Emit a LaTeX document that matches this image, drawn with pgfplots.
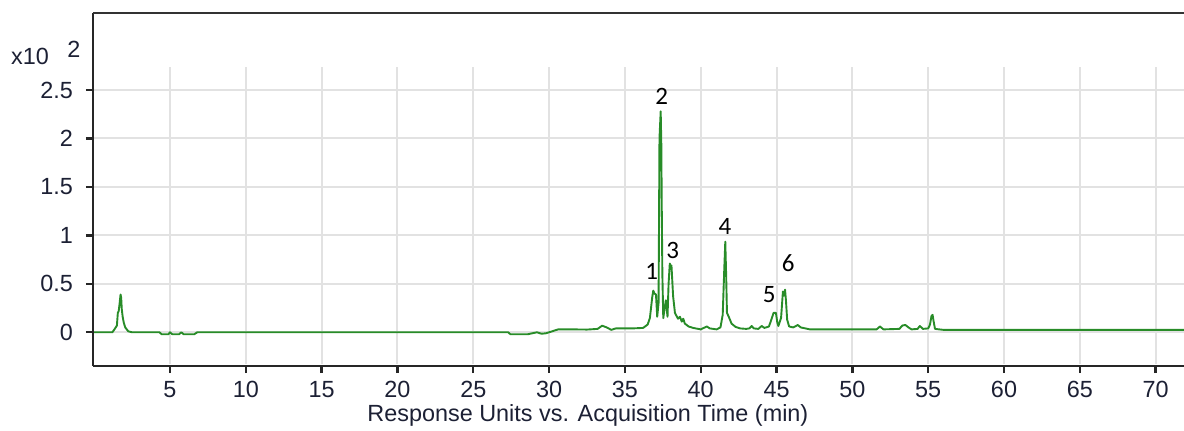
\documentclass[border=0pt]{standalone}
\usepackage{fontspec}
\setmainfont{Liberation Sans}
\newfontfamily\calib{Carlito}
\usepackage{pgfplots}
\pgfplotsset{compat=1.18}
\definecolor{trace}{RGB}{40,140,40}
\definecolor{gridc}{RGB}{226,226,226}
\definecolor{txt}{RGB}{28,32,52}
\begin{document}
\begin{tikzpicture}[x=1pt,y=1pt]
\useasboundingbox (-46.5,-32) rectangle (545.5,183);
\begin{axis}[
  at={(0,0)}, anchor=south west,
  scale only axis, width=545.5pt, height=176.5pt,
  xmin=-0.077, xmax=71.87, ymin=-0.348, ymax=3.295,
  axis lines=left,
  axis line style={-, line width=1.2pt, black!85},
  xtick={5,10,15,20,25,30,35,40,45,50,55,60,65,70},
  xticklabels={5,10,15,20,25,30,35,40,45,50,55,60,65,70},
  ytick={0,0.5,1,1.5,2,2.5},
  yticklabels={0,0.5,1,1.5,2,2.5},
  tick align=outside, major tick length=3.5pt,
  tick style={line width=1.2pt, black!85},
  ymajorgrids, grid style={gridc, line width=1pt},
  ticklabel style={font=\fontsize{11.7}{14}\selectfont, text=txt},
  xticklabel style={yshift=-0.5pt},
  yticklabel style={xshift=-3pt},
  /pgf/number format/assume math mode=true,
  clip=false,
]
\pgfplotsinvokeforeach{5,10,15,20,25,30,35,40,45,50,55,60,65,70}{
  \draw[gridc, line width=1pt] (axis cs:#1,-0.33) -- (axis cs:#1,2.74);
}
\addplot[trace, line width=0.95pt, line join=round] coordinates {
(0,0) (1.20,0) (1.38,0.04) (1.50,0.07) (1.56,0.20) (1.62,0.22) (1.68,0.30)
(1.74,0.39) (1.78,0.36) (1.82,0.24) (1.88,0.16) (1.95,0.10) (2.05,0.05)
(2.25,0.01) (2.5,0) (4.3,0) (4.45,-0.02) (4.9,-0.02) (5.0,0) (5.15,-0.02)
(5.6,-0.02) (5.75,0) (5.9,-0.02) (6.6,-0.02) (6.8,0) (27.3,0) (27.45,-0.02)
(28.6,-0.02) (28.9,-0.01) (29.2,0) (29.5,-0.015) (29.8,-0.01) (30.2,0.01)
(30.6,0.03) (31.5,0.03) (32.5,0.028) (33.2,0.035) (33.5,0.068) (33.8,0.05)
(34.1,0.025) (34.4,0.04) (35.5,0.04) (36.2,0.045) (36.5,0.08) (36.65,0.15)
(36.8,0.36) (36.87,0.43) (36.95,0.40) (37.05,0.39) (37.13,0.16) (37.22,0.3)
(37.28,2.0) (37.36,2.28) (37.40,1.95) (37.43,1.30) (37.47,0.6) (37.53,0.145)
(37.62,0.25) (37.70,0.33) (37.81,0.16) (37.88,0.5) (37.96,0.71) (38.02,0.66)
(38.07,0.69) (38.18,0.37) (38.3,0.2) (38.5,0.14) (38.63,0.16) (38.75,0.11)
(38.85,0.14) (38.95,0.09) (39.2,0.06) (39.5,0.045) (40.0,0.03) (40.2,0.045)
(40.4,0.06) (40.6,0.04) (41.05,0.03) (41.3,0.05) (41.45,0.18) (41.55,0.64)
(41.62,0.935) (41.68,0.57) (41.73,0.2) (41.85,0.16) (42.03,0.09) (42.3,0.055)
(42.6,0.04) (43.0,0.035) (43.2,0.04) (43.36,0.065) (43.5,0.04) (43.8,0.035)
(44.02,0.065) (44.2,0.045) (44.5,0.06) (44.7,0.15) (44.80,0.2) (44.96,0.2)
(45.05,0.1) (45.12,0.065) (45.3,0.15) (45.42,0.42) (45.5,0.38) (45.56,0.44)
(45.62,0.33) (45.7,0.13) (45.83,0.06) (46.1,0.05) (46.4,0.075) (46.6,0.05)
(46.9,0.04) (47.2,0.03) (51.6,0.03) (51.82,0.06) (52.05,0.03) (53.1,0.035)
(53.3,0.07) (53.5,0.075) (53.7,0.05) (53.9,0.03) (54.3,0.035) (54.45,0.065)
(54.65,0.035) (55.0,0.04) (55.12,0.08) (55.22,0.17) (55.29,0.18) (55.35,0.12)
(55.45,0.035) (56,0.025) (71.87,0.025)
};
\draw[line width=1.4pt, black!80] (rel axis cs:0,1) -- (rel axis cs:1,1);
\node[text=txt, font=\fontsize{11.7}{14}\selectfont] at (axis cs:-4.23,2.85) {x10};
\node[text=txt, font=\fontsize{11.7}{14}\selectfont] at (axis cs:-1.33,2.92) {2};
\node[text=txt, font=\fontsize{11.7}{14}\selectfont] at (axis cs:32.56,-0.86) {Response Units vs. Acquisition Time (min)};
\node[font=\calib\fontsize{12.5}{14}\selectfont] at (axis cs:37.42,2.43) {2};
\node[font=\calib\fontsize{12.5}{14}\selectfont] at (axis cs:36.77,0.625) {1};
\node[font=\calib\fontsize{12.5}{14}\selectfont] at (axis cs:38.15,0.849) {3};
\node[font=\calib\fontsize{12.5}{14}\selectfont] at (axis cs:41.60,1.09) {4};
\node[font=\calib\fontsize{12.5}{14}\selectfont] at (axis cs:44.52,0.385) {5};
\node[font=\calib\fontsize{12.5}{14}\selectfont] at (axis cs:45.77,0.712) {6};
\end{axis}
\end{tikzpicture}
\end{document}
